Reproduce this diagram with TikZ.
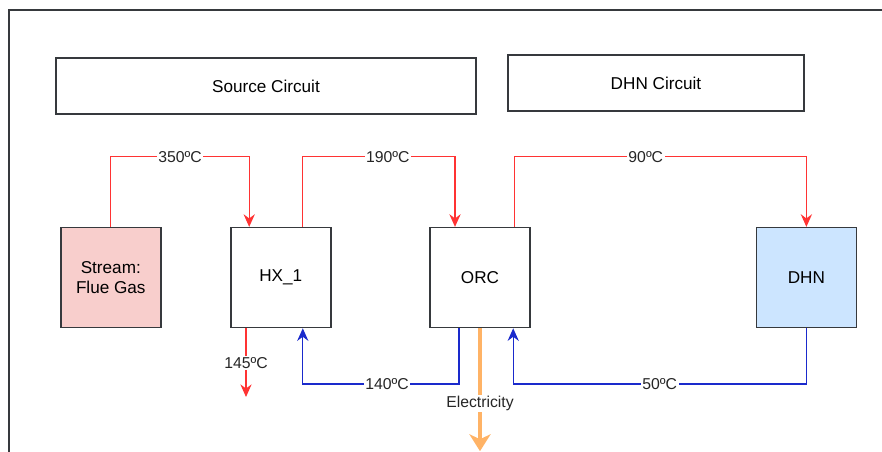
\documentclass[tikz,border=0pt]{standalone}
\usepackage{fontspec}
\setmainfont{Liberation Sans}
\usetikzlibrary{arrows.meta}
\definecolor{bordo}{HTML}{36393D}
\definecolor{rosso}{HTML}{FF3333}
\definecolor{blu}{HTML}{1A2ACC}
\definecolor{rosa}{HTML}{F8CECC}
\definecolor{azzurro}{HTML}{CCE5FF}
\definecolor{arancio}{HTML}{FFB366}
\begin{document}
\begin{tikzpicture}[
    blocco/.style={draw=bordo, line width=1pt, minimum width=2.5cm, minimum height=2.5cm,
        inner sep=0pt, align=center, font=\fontsize{12.2}{14.6}\selectfont},
    titolo/.style={draw=bordo, line width=1pt, minimum height=1.4cm,
        inner sep=0pt, font=\fontsize{12.2}{14.6}\selectfont},
    tubocaldo/.style={rosso, line width=0.9pt, -{Stealth[length=9pt, width=8pt, inset=3pt]}},
    tubofreddo/.style={blu, line width=0.9pt, -{Stealth[length=9pt, width=8pt, inset=3pt]}},
    etichetta/.style={fill=white, inner sep=1pt, text=black!85, font=\fontsize{11.2}{13}\selectfont}
]
    \useasboundingbox (0, 0) rectangle (22.05, 11.3);

    % Cornice
    \draw[bordo, line width=1.1pt] (0.225, 0) -- (0.225, 11.05) -- (22.05, 11.05);

    % Circuiti
    \node[titolo, minimum width=10.5cm] (sorgente) at (6.65, 9.15) {Source Circuit};
    \node[titolo, minimum width=7.4cm] (rete) at (16.4, 9.225) {DHN Circuit};

    % Blocchi
    \node[blocco, fill=rosa] (flusso) at (2.77, 4.36) {Stream:\\Flue Gas};
    \node[blocco] (hx) at (7.02, 4.36) {HX\_1};
    \node[blocco] (orc) at (12.0, 4.36) {ORC};
    \node[blocco, fill=azzurro] (dhn) at (20.16, 4.36) {DHN};

    % Quote dei tubi
    \coordinate (alto) at (0, 7.38);
    \coordinate (basso) at (0, 1.7);
    \coordinate (hxin) at ([xshift=-0.79cm]hx.north);
    \coordinate (hxout) at ([xshift=0.54cm]hx.north);
    \coordinate (orcin) at ([xshift=-0.625cm]orc.north);
    \coordinate (orcout) at ([xshift=0.86cm]orc.north);
    \coordinate (hxscarico) at ([xshift=-0.87cm]hx.south);
    \coordinate (hxritorno) at ([xshift=0.55cm]hx.south);
    \coordinate (orcmandata) at ([xshift=-0.525cm]orc.south);
    \coordinate (orcritorno) at ([xshift=0.83cm]orc.south);
    \coordinate (scarico) at (hxscarico |- 0, 1.375);
    \coordinate (rete elettrica) at (orc.south |- 0, 0.02);

    % Lato caldo
    \draw[tubocaldo] (flusso.north) |- node[etichetta, pos=0.75] {350ºC} (hxin |- alto) -- (hxin);
    \draw[tubocaldo] (hxout) |- node[etichetta, pos=0.78] {190ºC} (orcin |- alto) -- (orcin);
    \draw[tubocaldo] (orcout) |- node[etichetta, pos=0.725] {90ºC} (dhn.north |- alto) -- (dhn.north);
    \draw[tubocaldo] (hxscarico) -- node[etichetta] {145ºC} (scarico);

    % Lato freddo
    \draw[tubofreddo] (dhn.south) |- node[etichetta, pos=0.75] {50ºC} (orcritorno |- basso) -- (orcritorno);
    \draw[tubofreddo] (orcmandata) |- node[etichetta, pos=0.73] {140ºC} (hxritorno |- basso) -- (hxritorno);

    % Elettricita
    \draw[arancio, line width=3.5pt, -{Stealth[length=12pt, width=15pt, inset=3.5pt]}]
        (orc.south) -- node[etichetta, pos=0.61] {Electricity} (rete elettrica);
\end{tikzpicture}
\end{document}
